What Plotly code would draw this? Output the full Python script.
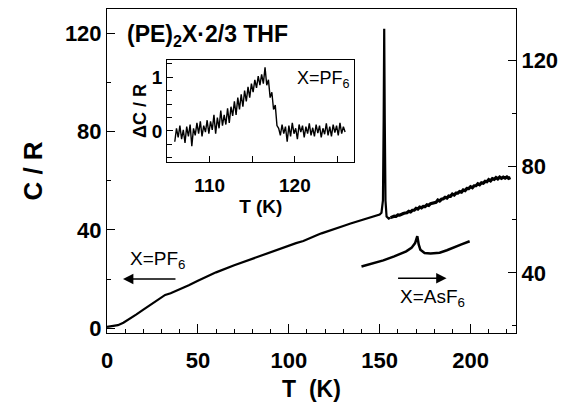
import plotly.graph_objects as go

# ---------------- data ----------------
# (PE)2PF6 main curve, smooth part + spike (left axis)
pf6_T = [0, 3, 6, 9, 12, 16, 20, 25, 30, 32, 35, 40, 45, 50, 55, 60, 70, 80, 90,
         100, 104, 108, 112, 114, 116, 118, 122, 126, 130, 134, 138, 142, 146, 150,
         151, 151.8, 152.2, 152.5, 152.8, 153.2, 153.8, 155, 156]
pf6_C = [0.5, 0.7, 1.2, 2.2, 3.5, 5.5, 7.5, 10.0, 12.7, 13.5, 14.2, 15.7, 17.5, 19.3,
         21.0, 22.7, 25.6, 28.3, 31.0,
         33.6, 34.6, 35.5, 36.6, 37.2, 38.0, 38.6, 39.7, 40.7, 41.6, 42.6, 43.5, 44.3, 45.4, 46.3,
         47.0, 52.0, 85.0, 122.0, 85.0, 52.0, 45.5, 44.6, 45.0]

# noisy high-temperature part of the PF6 curve (left axis)
pf6_hi_T = [156, 157, 158, 159, 160, 161, 162, 163, 164, 165, 166, 167, 168, 169, 170,
            171, 172, 173, 174, 175, 176, 177, 178, 179, 180, 181, 182, 183, 184, 185,
            186, 187, 188, 189, 190, 191, 192, 193, 194, 195, 196, 197, 198, 199, 200,
            201, 202, 203, 204, 205, 206, 207, 208, 209, 210, 211, 212, 213, 214, 215,
            216, 217, 218, 219, 220, 221, 222]
pf6_hi_C = [45.0, 45.3, 45.6, 45.5, 46.1, 46.0, 46.5, 46.7, 46.9, 47.0, 47.6, 47.3, 48.0,
            48.0, 48.8, 48.5, 49.3, 49.0, 49.6, 49.5, 50.2, 50.0, 50.7, 50.9, 51.3, 51.2,
            52.2, 51.8, 52.5, 52.7, 53.3, 53.0, 53.8, 53.7, 54.6, 54.2, 55.0, 55.0, 55.6,
            55.4, 56.3, 56.0, 56.9, 56.8, 57.6, 57.2, 58.0, 58.0, 58.8, 58.4, 59.2, 59.0,
            59.8, 59.6, 60.5, 60.0, 60.9, 60.6, 61.3, 60.8, 61.5, 61.0, 61.5, 61.1, 61.6,
            61.0, 61.3]

# (PE)2AsF6 curve (right axis)
asf6_T = [140, 146, 152, 158, 164.6, 167.5, 169.5, 170.7, 171.5, 172.4, 174.7, 178, 183, 187, 190, 195, 199.5]
asf6_C = [42.4, 43.5, 44.7, 46.2, 48.1, 49.4, 51.2, 53.8, 50.6, 48.7, 47.5, 47.3, 47.6, 48.5, 49.4, 50.7, 51.9]

# inset: excess heat capacity around the 117 K transition
inset_T0 = 105.9
inset_dT = 0.2
inset_dC = [-0.20, 0.05, -0.12, 0.10, -0.15, 0.02, -0.22, 0.08, -0.10, 0.12,
            -0.28, 0.05, -0.08, 0.15, -0.05, 0.18, -0.10, 0.10, -0.02, 0.20,
            -0.05, 0.18, 0.02, 0.30, -0.05, 0.25, 0.05, 0.38, 0.10, 0.30,
            0.12, 0.42, 0.15, 0.45, 0.28, 0.55, 0.30, 0.62, 0.40, 0.68,
            0.45, 0.75, 0.55, 0.82, 0.62, 0.88, 0.72, 0.95, 0.80, 1.02,
            0.85, 1.05, 0.88, 1.18, 0.85, 0.95, 0.62, 0.72, 0.40, 0.48,
            0.10, 0.05, -0.08, 0.12, -0.05, 0.08, -0.20, 0.10, -0.10, 0.15,
            -0.05, 0.05, -0.15, 0.12, -0.02, 0.10, -0.12, 0.08, -0.05, 0.14,
            -0.08, 0.06, -0.10, 0.12, -0.04, 0.10, -0.12, 0.05, -0.06, 0.14,
            -0.08, 0.08, -0.10, 0.12, -0.03, 0.10, -0.08, 0.15, -0.05, 0.08,
            -0.02]
inset_T = [round(inset_T0 + i * inset_dT, 2) for i in range(len(inset_dC))]

x_ticks = [0, 50, 100, 150, 200]
yl_ticks = [0, 40, 80, 120]
yr_ticks = [40, 80, 120]
inset_x_ticks = [110, 120]
inset_y_ticks = [0, 1]

# ---------------- figure ----------------
FONT = "Liberation Sans, Arial, Helvetica, sans-serif"
BLACK = "#000000"

fig = go.Figure()
fig.add_trace(go.Scatter(x=pf6_T, y=pf6_C, mode="lines",
                         line=dict(color=BLACK, width=2.2), xaxis="x", yaxis="y",
                         showlegend=False, hoverinfo="skip"))
fig.add_trace(go.Scatter(x=pf6_hi_T, y=pf6_hi_C, mode="lines",
                         line=dict(color=BLACK, width=3.2), xaxis="x", yaxis="y",
                         showlegend=False, hoverinfo="skip"))
fig.add_trace(go.Scatter(x=asf6_T, y=asf6_C, mode="lines",
                         line=dict(color=BLACK, width=2.5), xaxis="x", yaxis="y2",
                         showlegend=False, hoverinfo="skip"))
fig.add_trace(go.Scatter(x=inset_T, y=inset_dC, mode="lines",
                         line=dict(color=BLACK, width=1.4), xaxis="x2", yaxis="y3",
                         showlegend=False, hoverinfo="skip"))

tickfont_main = dict(family=FONT, size=22, color=BLACK, weight="bold")
tickfont_inset = dict(family=FONT, size=19, color=BLACK, weight="bold")

fig.update_layout(
    width=565, height=414,
    margin=dict(l=107, r=49, t=9, b=81, autoexpand=False),
    paper_bgcolor="white", plot_bgcolor="white",
    xaxis=dict(
        domain=[0, 1], range=[0, 225], tickvals=x_ticks, automargin=False,
        ticks="inside", ticklen=9, tickwidth=1, tickcolor=BLACK,
        minor=dict(dtick=10, tick0=0, ticks="inside", ticklen=4, tickcolor=BLACK),
        showline=True, linecolor=BLACK, linewidth=1, mirror=True,
        showgrid=False, zeroline=False, tickfont=tickfont_main,
        ticklabelstandoff=8,
        title=dict(text="T  (K)", font=dict(family=FONT, size=23, color=BLACK, weight="bold"),
                   standoff=8),
    ),
    yaxis=dict(
        domain=[0, 1], range=[-2, 130], tickvals=yl_ticks, automargin=False,
        ticks="inside", ticklen=8, tickwidth=1, tickcolor=BLACK,
        minor=dict(dtick=20, tick0=0, ticks="inside", ticklen=4, tickcolor=BLACK),
        showline=True, linecolor=BLACK, linewidth=1,
        showgrid=False, zeroline=False, tickfont=tickfont_main,
        ticklabelstandoff=0,
        title=dict(text="C / R", font=dict(family=FONT, size=26, color=BLACK, weight="bold"),
                   standoff=14),
    ),
    yaxis2=dict(
        overlaying="y", side="right", anchor="x", range=[17.3, 139.5], tickvals=yr_ticks,
        automargin=False,
        ticks="inside", ticklen=8, tickwidth=1, tickcolor=BLACK,
        minor=dict(dtick=20, tick0=0, ticks="inside", ticklen=4, tickcolor=BLACK),
        showline=True, linecolor=BLACK, linewidth=1,
        showgrid=False, zeroline=False, tickfont=tickfont_main,
        ticklabelstandoff=0,
    ),
    xaxis2=dict(
        domain=[0.147, 0.605], anchor="y3", range=[105, 127], tickvals=inset_x_ticks,
        automargin=False,
        ticks="inside", ticklen=6, tickwidth=1, tickcolor=BLACK,
        minor=dict(dtick=5, tick0=105, ticks="inside", ticklen=6, tickcolor=BLACK),
        showline=True, linecolor=BLACK, linewidth=1, mirror=True,
        showgrid=False, zeroline=False, tickfont=tickfont_inset,
        ticklabelstandoff=6,
        title=dict(text="T (K)", font=dict(family=FONT, size=19, color=BLACK, weight="bold"),
                   standoff=2),
    ),
    yaxis3=dict(
        domain=[0.527, 0.843], anchor="x2", range=[-0.58, 1.32], tickvals=inset_y_ticks,
        automargin=False,
        ticks="inside", ticklen=6, tickwidth=1, tickcolor=BLACK,
        minor=dict(dtick=0.25, tick0=0, ticks="inside", ticklen=5, tickcolor=BLACK),
        showline=True, linecolor=BLACK, linewidth=1, mirror=True,
        showgrid=False, zeroline=False, tickfont=tickfont_inset,
        ticklabelstandoff=0,
        title=dict(text="ΔC / R", font=dict(family=FONT, size=18, color=BLACK, weight="bold"),
                   standoff=0),
    ),
)

ann = []
ann.append(dict(text="(PE)<sub>2</sub>X·2/3 THF", x=9.9, y=119.4, xref="x", yref="y",
                xanchor="left", yanchor="middle", showarrow=False,
                font=dict(family=FONT, size=23, color=BLACK, weight="bold")))
ann.append(dict(text="X=PF<sub>6</sub>", x=123.4, y=0.95, xref="x2", yref="y3",
                xanchor="center", yanchor="middle", showarrow=False,
                font=dict(family=FONT, size=18, color=BLACK)))
ann.append(dict(text="X=PF<sub>6</sub>", x=28, y=27.7, xref="x", yref="y",
                xanchor="center", yanchor="middle", showarrow=False,
                font=dict(family=FONT, size=19, color=BLACK)))
ann.append(dict(text="X=AsF<sub>6</sub>", x=179.3, y=12.2, xref="x", yref="y",
                xanchor="center", yanchor="middle", showarrow=False,
                font=dict(family=FONT, size=19, color=BLACK)))
# arrows
ann.append(dict(text="", x=8.8, y=20.0, ax=38.5, ay=20.0, xref="x", yref="y",
                axref="x", ayref="y", showarrow=True, arrowhead=2, arrowsize=1.3,
                arrowwidth=1.6, arrowcolor=BLACK))
ann.append(dict(text="", x=186.8, y=20.3, ax=159.3, ay=20.3, xref="x", yref="y",
                axref="x", ayref="y", showarrow=True, arrowhead=2, arrowsize=1.3,
                arrowwidth=1.6, arrowcolor=BLACK))
fig.update_layout(annotations=ann)

fig.write_html("out.html", config={"displayModeBar": False},
               post_script="document.body.style.margin='0';document.body.style.padding='0';")
